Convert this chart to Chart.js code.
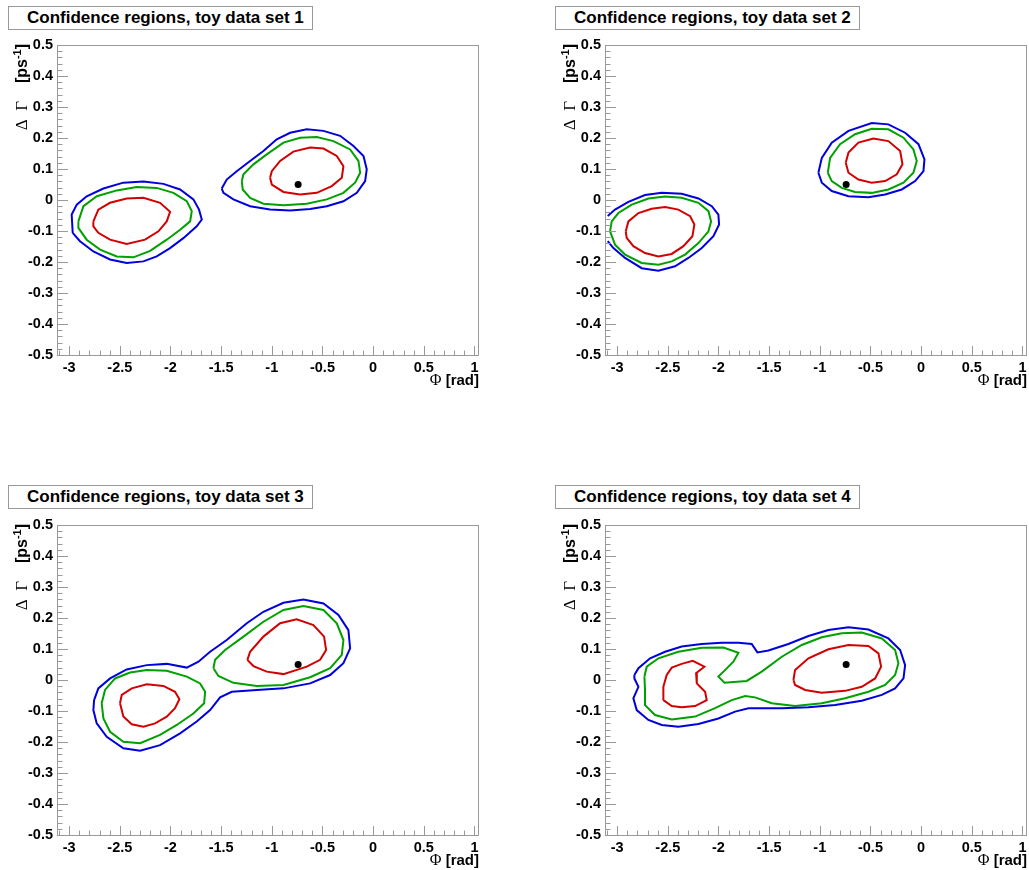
<!DOCTYPE html>
<html>
<head>
<meta charset="utf-8">
<script src="https://cdn.jsdelivr.net/npm/chart.js@4.4.0/dist/chart.umd.min.js"></script>
<style>
  body { margin: 0; width: 1029px; height: 870px; overflow: hidden; background: #fff; position: relative; }
  canvas { position: absolute; }
  .title {
    position: absolute; box-sizing: border-box; width: 305px; height: 24px;
    border: 1px solid #999; background: #fff; color: #000;
    font: bold 17px 'Liberation Sans', Arial, sans-serif; line-height: 22px;
    padding-left: 18px; white-space: nowrap;
  }
</style>
</head>
<body>
<canvas id="c1" width="514" height="435" style="left:0;top:0"></canvas>
<canvas id="c2" width="514" height="435" style="left:548px;top:0"></canvas>
<canvas id="c3" width="514" height="435" style="left:0;top:480px"></canvas>
<canvas id="c4" width="514" height="435" style="left:548px;top:480px"></canvas>
<div class="title" style="left:8px;top:6px">Confidence regions, toy data set 1</div>
<div class="title" style="left:555px;top:6px">Confidence regions, toy data set 2</div>
<div class="title" style="left:8px;top:485px">Confidence regions, toy data set 3</div>
<div class="title" style="left:555px;top:485px">Confidence regions, toy data set 4</div>
<script>
// axis ranges and tick labels
const xMin = -3.12, xMax = 1.045;
const yMin = -0.5, yMax = 0.5;
const xTicks = [-3, -2.5, -2, -1.5, -1, -0.5, 0, 0.5, 1];
const xTickLabels = ['-3', '-2.5', '-2', '-1.5', '-1', '-0.5', '0', '0.5', '1'];
const yTicks = [-0.5, -0.4, -0.3, -0.2, -0.1, 0, 0.1, 0.2, 0.3, 0.4, 0.5];
const yTickLabels = ['-0.5', '-0.4', '-0.3', '-0.2', '-0.1', '0', '0.1', '0.2', '0.3', '0.4', '0.5'];

// best fit point (same in every toy set)
const bestFit = [-0.74, 0.05];

// --- toy data set 1 ---
const set1BlueA = [[-2.965,-0.106],[-2.975,-0.047],[-2.925,-0.015],[-2.827,0.012],[-2.662,0.037],[-2.465,0.056],[-2.267,0.060],[-2.070,0.052],[-1.905,0.034],[-1.774,0.002],[-1.718,-0.031],[-1.691,-0.063],[-1.741,-0.085],[-1.873,-0.123],[-2.004,-0.155],[-2.136,-0.182],[-2.267,-0.198],[-2.432,-0.203],[-2.597,-0.192],[-2.761,-0.166],[-2.893,-0.133]];
const set1GreenA = [[-2.909,-0.069],[-2.859,-0.020],[-2.727,0.012],[-2.530,0.031],[-2.333,0.042],[-2.136,0.039],[-1.971,0.023],[-1.839,-0.004],[-1.790,-0.036],[-1.806,-0.069],[-1.905,-0.096],[-2.037,-0.128],[-2.201,-0.164],[-2.366,-0.185],[-2.530,-0.182],[-2.695,-0.160],[-2.827,-0.128],[-2.909,-0.090]];
const set1RedA = [[-2.761,-0.069],[-2.712,-0.031],[-2.597,-0.009],[-2.432,0.005],[-2.267,0.007],[-2.103,-0.009],[-2.004,-0.038],[-2.037,-0.069],[-2.119,-0.101],[-2.251,-0.128],[-2.432,-0.142],[-2.597,-0.128],[-2.712,-0.106],[-2.761,-0.085]];
const set1BlueB = [[-1.494,0.037],[-1.445,0.066],[-1.346,0.093],[-1.214,0.126],[-1.083,0.158],[-0.951,0.196],[-0.819,0.217],[-0.655,0.228],[-0.490,0.223],[-0.326,0.207],[-0.194,0.174],[-0.095,0.142],[-0.063,0.099],[-0.079,0.061],[-0.161,0.023],[-0.293,-0.004],[-0.457,-0.020],[-0.622,-0.029],[-0.819,-0.034],[-1.017,-0.031],[-1.214,-0.020],[-1.379,0.002],[-1.477,0.023]];
const set1GreenB = [[-1.296,0.061],[-1.280,0.083],[-1.181,0.115],[-1.050,0.147],[-0.885,0.185],[-0.721,0.201],[-0.556,0.203],[-0.392,0.190],[-0.227,0.163],[-0.145,0.126],[-0.128,0.088],[-0.178,0.056],[-0.293,0.023],[-0.457,0.002],[-0.655,-0.012],[-0.885,-0.017],[-1.083,-0.012],[-1.214,0.007],[-1.287,0.034]];
const set1RedB = [[-1.017,0.072],[-1.000,0.093],[-0.918,0.126],[-0.787,0.156],[-0.622,0.169],[-0.490,0.166],[-0.359,0.142],[-0.293,0.109],[-0.309,0.072],[-0.408,0.045],[-0.556,0.023],[-0.721,0.018],[-0.885,0.026],[-1.000,0.050]];

// --- toy data set 2 ---
const set2BlueA = [[-3.093,-0.052],[-3.021,-0.031],[-2.889,-0.006],[-2.725,0.016],[-2.560,0.023],[-2.363,0.020],[-2.198,0.005],[-2.066,-0.020],[-2.001,-0.047],[-1.994,-0.079],[-2.050,-0.117],[-2.165,-0.155],[-2.297,-0.187],[-2.429,-0.214],[-2.593,-0.228],[-2.758,-0.220],[-2.922,-0.187],[-3.037,-0.155],[-3.093,-0.133]];
const set2GreenA = [[-3.070,-0.101],[-3.054,-0.069],[-2.988,-0.042],[-2.856,-0.015],[-2.692,0.005],[-2.527,0.011],[-2.363,0.007],[-2.198,-0.009],[-2.099,-0.036],[-2.073,-0.069],[-2.099,-0.101],[-2.198,-0.139],[-2.330,-0.176],[-2.462,-0.198],[-2.593,-0.209],[-2.758,-0.203],[-2.922,-0.176],[-3.021,-0.144]];
const set2RedA = [[-2.915,-0.101],[-2.889,-0.069],[-2.790,-0.042],[-2.659,-0.028],[-2.527,-0.023],[-2.396,-0.031],[-2.280,-0.052],[-2.238,-0.079],[-2.257,-0.117],[-2.346,-0.149],[-2.462,-0.174],[-2.593,-0.182],[-2.725,-0.171],[-2.840,-0.149],[-2.906,-0.122]];
const set2BlueB = [[-1.014,0.088],[-0.980,0.136],[-0.882,0.185],[-0.717,0.223],[-0.487,0.248],[-0.323,0.244],[-0.158,0.217],[-0.026,0.180],[0.033,0.131],[0.023,0.093],[-0.059,0.061],[-0.191,0.034],[-0.355,0.018],[-0.520,0.009],[-0.717,0.012],[-0.882,0.029],[-0.980,0.056]];
const set2GreenB = [[-0.921,0.088],[-0.898,0.136],[-0.800,0.180],[-0.652,0.212],[-0.487,0.230],[-0.323,0.228],[-0.174,0.201],[-0.076,0.163],[-0.043,0.126],[-0.076,0.088],[-0.174,0.056],[-0.323,0.034],[-0.487,0.023],[-0.652,0.026],[-0.783,0.039],[-0.882,0.061]];
const set2RedB = [[-0.744,0.120],[-0.717,0.153],[-0.619,0.185],[-0.471,0.198],[-0.323,0.190],[-0.207,0.158],[-0.184,0.115],[-0.240,0.083],[-0.355,0.061],[-0.487,0.056],[-0.619,0.066],[-0.717,0.088]];

// --- toy data set 3 ---
const set3Blue = [[-2.754,-0.065],[-2.712,-0.027],[-2.596,0.005],[-2.432,0.034],[-2.234,0.048],[-2.037,0.052],[-1.839,0.040],[-1.724,0.059],[-1.609,0.091],[-1.445,0.129],[-1.247,0.183],[-1.083,0.220],[-0.885,0.249],[-0.688,0.260],[-0.490,0.247],[-0.342,0.210],[-0.244,0.161],[-0.227,0.102],[-0.293,0.054],[-0.424,0.016],[-0.622,-0.011],[-0.885,-0.027],[-1.148,-0.032],[-1.395,-0.038],[-1.510,-0.056],[-1.609,-0.097],[-1.741,-0.134],[-1.905,-0.172],[-2.103,-0.210],[-2.300,-0.228],[-2.465,-0.220],[-2.629,-0.183],[-2.728,-0.140],[-2.761,-0.097]];
const set3GreenA = [[-2.679,-0.075],[-2.646,-0.032],[-2.547,0.005],[-2.399,0.024],[-2.234,0.032],[-2.037,0.030],[-1.839,0.011],[-1.708,-0.011],[-1.658,-0.038],[-1.668,-0.075],[-1.774,-0.108],[-1.938,-0.145],[-2.103,-0.177],[-2.300,-0.204],[-2.465,-0.199],[-2.596,-0.167],[-2.662,-0.124]];
const set3GreenB = [[-1.576,0.038],[-1.560,0.065],[-1.461,0.097],[-1.280,0.140],[-1.083,0.188],[-0.885,0.226],[-0.688,0.239],[-0.490,0.226],[-0.359,0.183],[-0.293,0.129],[-0.309,0.081],[-0.424,0.038],[-0.622,0.009],[-0.885,-0.016],[-1.148,-0.019],[-1.379,-0.009],[-1.527,0.013]];
const set3RedA = [[-2.498,-0.075],[-2.481,-0.048],[-2.382,-0.027],[-2.234,-0.014],[-2.070,-0.019],[-1.955,-0.038],[-1.912,-0.062],[-1.955,-0.091],[-2.037,-0.118],[-2.152,-0.140],[-2.267,-0.151],[-2.382,-0.143],[-2.465,-0.118]];
const set3RedB = [[-1.241,0.065],[-1.214,0.091],[-1.083,0.140],[-0.918,0.183],[-0.754,0.196],[-0.589,0.177],[-0.484,0.140],[-0.464,0.097],[-0.523,0.065],[-0.655,0.043],[-0.885,0.019],[-1.050,0.027],[-1.181,0.045]];

// --- toy data set 4 ---
const set4Blue = [[-2.830,0.016],[-2.790,0.038],[-2.675,0.070],[-2.527,0.091],[-2.363,0.108],[-2.165,0.116],[-1.968,0.120],[-1.803,0.120],[-1.672,0.116],[-1.616,0.089],[-1.507,0.095],[-1.310,0.116],[-1.112,0.142],[-0.915,0.161],[-0.717,0.170],[-0.520,0.163],[-0.323,0.134],[-0.207,0.097],[-0.158,0.048],[-0.174,0.005],[-0.257,-0.027],[-0.388,-0.048],[-0.586,-0.067],[-0.849,-0.081],[-1.112,-0.088],[-1.375,-0.091],[-1.704,-0.091],[-1.836,-0.102],[-2.001,-0.124],[-2.198,-0.142],[-2.396,-0.151],[-2.560,-0.145],[-2.692,-0.129],[-2.807,-0.097],[-2.840,-0.059],[-2.790,-0.022],[-2.830,0.005]];
const set4Green = [[-2.731,0.011],[-2.708,0.043],[-2.593,0.070],[-2.396,0.091],[-2.165,0.104],[-1.951,0.105],[-1.803,0.088],[-1.853,0.059],[-1.935,0.032],[-2.001,0.011],[-1.941,-0.009],[-1.721,-0.003],[-1.573,0.027],[-1.375,0.075],[-1.178,0.113],[-0.981,0.138],[-0.783,0.151],[-0.586,0.153],[-0.388,0.134],[-0.257,0.097],[-0.224,0.054],[-0.257,0.016],[-0.355,-0.016],[-0.520,-0.038],[-0.750,-0.059],[-0.981,-0.075],[-1.244,-0.084],[-1.474,-0.075],[-1.639,-0.056],[-1.737,-0.052],[-1.869,-0.065],[-2.034,-0.091],[-2.231,-0.118],[-2.461,-0.127],[-2.626,-0.113],[-2.725,-0.081],[-2.725,-0.032]];
const set4RedA = [[-2.544,-0.065],[-2.544,-0.022],[-2.511,0.016],[-2.461,0.040],[-2.363,0.052],[-2.254,0.062],[-2.139,0.043],[-2.221,0.022],[-2.214,-0.011],[-2.132,-0.038],[-2.116,-0.065],[-2.231,-0.084],[-2.363,-0.088],[-2.461,-0.084]];
const set4RedB = [[-1.260,0.000],[-1.244,0.032],[-1.112,0.070],[-0.915,0.099],[-0.717,0.113],[-0.520,0.110],[-0.421,0.086],[-0.395,0.043],[-0.454,0.005],[-0.586,-0.022],[-0.750,-0.035],[-0.981,-0.041],[-1.145,-0.032],[-1.244,-0.016]];

const BLUE = '#0000dc', GREEN = '#00a000', RED = '#d20000';
const FRAME = '#999999';

// draws text pieces with mixed fonts, pieces = [text, font, raise]
function drawPieces(ctx, pieces, endX, baseY) {
  let w = 0;
  pieces.forEach(p => { ctx.font = p[1]; w += ctx.measureText(p[0]).width; });
  let cx = endX - w;
  pieces.forEach(p => { ctx.font = p[1]; ctx.fillText(p[0], cx, baseY + p[2]); cx += ctx.measureText(p[0]).width; });
}

// ROOT style frame, inward ticks and axis titles
const rootFrame = {
  id: 'rootFrame',
  afterDraw(chart) {
    const { ctx, chartArea: a, scales: { x, y } } = chart;
    ctx.save();
    ctx.strokeStyle = FRAME;
    ctx.lineWidth = 1;
    ctx.strokeRect(a.left + 0.5, a.top + 0.5, a.right - a.left - 1, a.bottom - a.top);
    ctx.beginPath();
    for (let v = -3.1; v <= xMax + 1e-6; v += 0.1) {
      const px = Math.round(x.getPixelForValue(v)) + 0.5;
      const major = xTicks.some(t => Math.abs(t - v) < 1e-6);
      ctx.moveTo(px, a.bottom);
      ctx.lineTo(px, a.bottom - (major ? 9 : 4.5));
    }
    for (let v = yMin; v <= yMax + 1e-6; v += 0.02) {
      const py = Math.round(y.getPixelForValue(v)) + 0.5;
      const major = yTicks.some(t => Math.abs(t - v) < 1e-6);
      ctx.moveTo(a.left, py);
      ctx.lineTo(a.left + (major ? 11 : 5.5), py);
    }
    ctx.stroke();

    ctx.fillStyle = '#000';
    ctx.textBaseline = 'alphabetic';
    // x title
    drawPieces(ctx, [
      ['Φ', '16px "Liberation Serif"', 0],
      [' [rad]', 'bold 15px "Liberation Sans"', 0]
    ], a.right, a.bottom + 30);

    // y title, rotated
    ctx.translate(a.left - 30, a.top - 1);
    ctx.rotate(-Math.PI / 2);
    drawPieces(ctx, [
      ['Δ  Γ', '17px "Liberation Serif"', 0],
      ['    [ps', 'bold 16px "Liberation Sans"', 0],
      ['-1', 'bold 11px "Liberation Sans"', -6],
      [']', 'bold 16px "Liberation Sans"', 0]
    ], 0, 0);
    ctx.restore();
  }
};

function contour(points, color, open) {
  const data = points.map(p => ({ x: p[0], y: p[1] }));
  if (!open) data.push({ x: points[0][0], y: points[0][1] });
  return { data: data, showLine: true, borderColor: color, borderWidth: 2, pointRadius: 0, tension: 0, fill: false };
}

function drawPanel(id, datasets) {
  datasets.push({ data: [{ x: bestFit[0], y: bestFit[1] }], pointRadius: 3.5, backgroundColor: '#000', borderWidth: 0, showLine: false });
  const tickFont = { family: "'Liberation Sans', Arial", weight: 'bold', size: 14.5 };
  new Chart(document.getElementById(id), {
    type: 'scatter',
    data: { datasets: datasets },
    options: {
      responsive: false,
      animation: false,
      devicePixelRatio: 1,
      layout: { padding: { left: 0, top: 45, right: 35, bottom: 35 } },
      plugins: { legend: { display: false }, tooltip: { enabled: false } },
      scales: {
        x: {
          type: 'linear', min: xMin, max: xMax,
          afterBuildTicks: s => { s.ticks = xTicks.map(v => ({ value: v })); },
          afterFit: s => { s.height = 45; },
          grid: { display: false, drawTicks: false },
          border: { display: false },
          ticks: { font: tickFont, color: '#000', padding: 4, maxRotation: 0, autoSkip: false, callback: (v, i) => xTickLabels[i] }
        },
        y: {
          type: 'linear', min: yMin, max: yMax,
          afterBuildTicks: s => { s.ticks = yTicks.map(v => ({ value: v })); },
          afterFit: s => { s.width = 57; },
          grid: { display: false, drawTicks: false },
          border: { display: false },
          ticks: { font: tickFont, color: '#000', padding: 4, autoSkip: false, callback: (v, i) => yTickLabels[i] }
        }
      }
    },
    plugins: [rootFrame]
  });
}

drawPanel('c1', [
  contour(set1BlueA, BLUE), contour(set1GreenA, GREEN), contour(set1RedA, RED),
  contour(set1BlueB, BLUE), contour(set1GreenB, GREEN), contour(set1RedB, RED)
]);
drawPanel('c2', [
  contour(set2BlueA, BLUE, true), contour(set2GreenA, GREEN), contour(set2RedA, RED),
  contour(set2BlueB, BLUE), contour(set2GreenB, GREEN), contour(set2RedB, RED)
]);
drawPanel('c3', [
  contour(set3Blue, BLUE), contour(set3GreenA, GREEN), contour(set3GreenB, GREEN),
  contour(set3RedA, RED), contour(set3RedB, RED)
]);
drawPanel('c4', [
  contour(set4Blue, BLUE), contour(set4Green, GREEN),
  contour(set4RedA, RED), contour(set4RedB, RED)
]);
</script>
</body>
</html>
